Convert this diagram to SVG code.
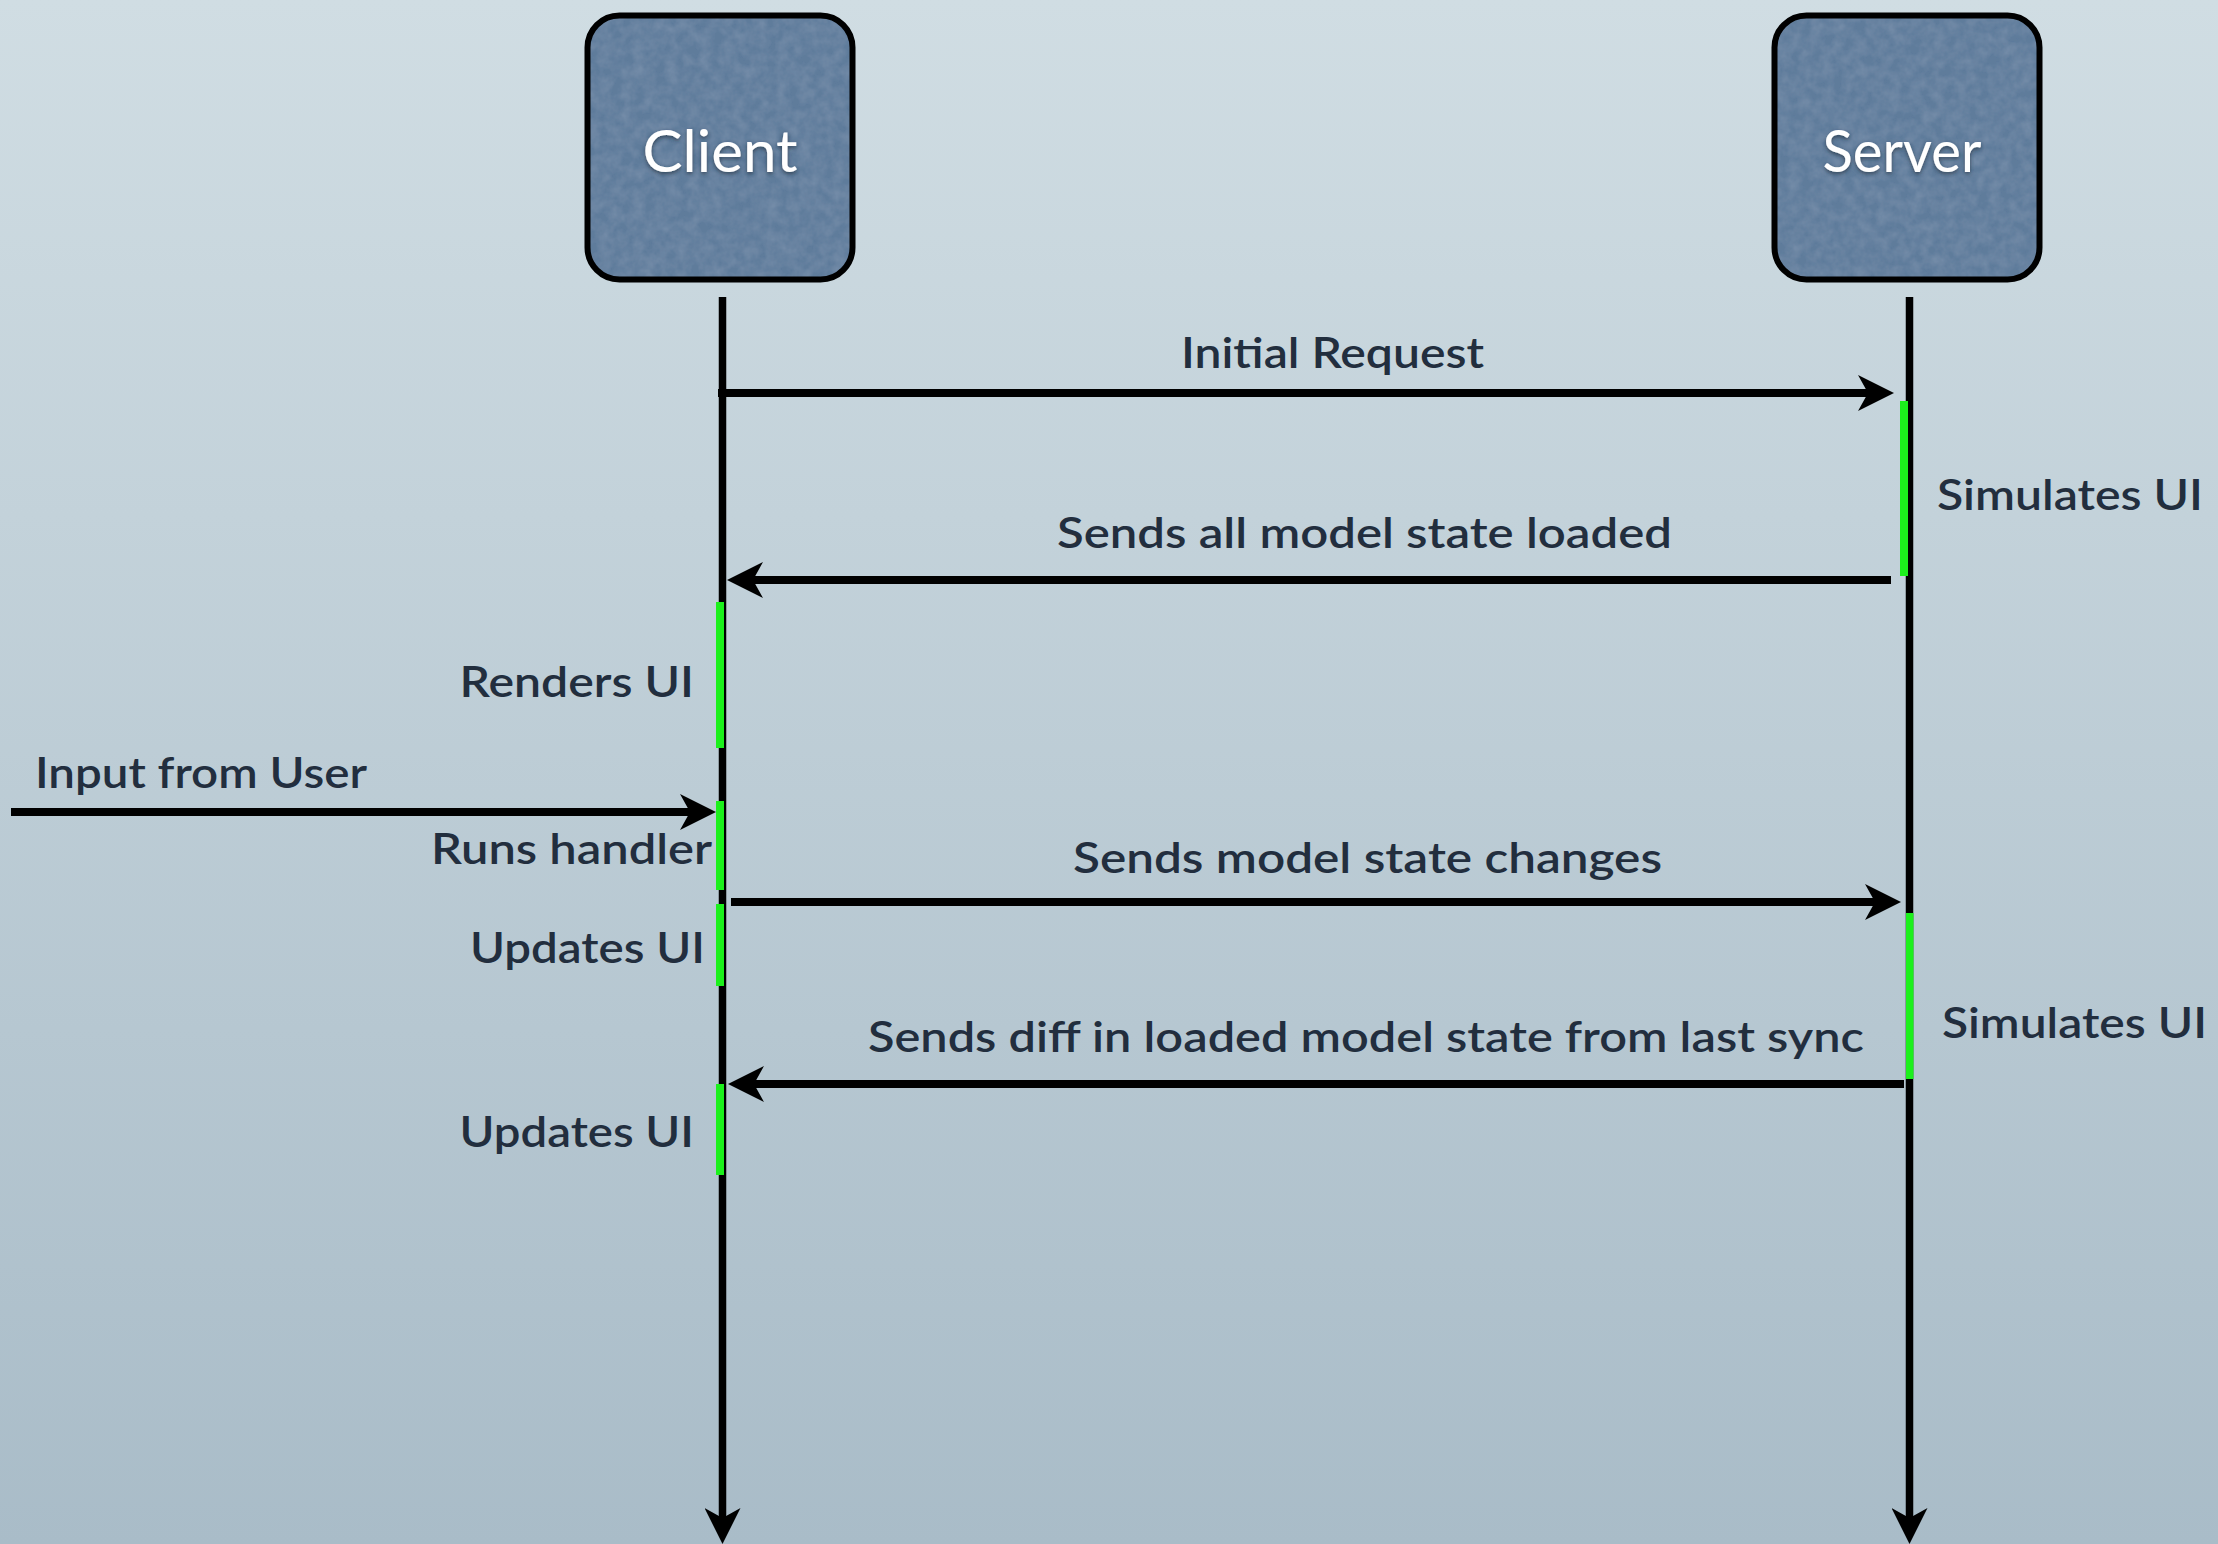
<svg xmlns="http://www.w3.org/2000/svg" width="2218" height="1544" viewBox="0 0 2218 1544">
  <defs>
    <linearGradient id="bg" x1="0" y1="0" x2="0" y2="1">
      <stop offset="0" stop-color="#d0dde3"/>
      <stop offset="1" stop-color="#a9bcc8"/>
    </linearGradient>
    <filter id="grain" x="0" y="0" width="100%" height="100%">
      <feTurbulence type="fractalNoise" baseFrequency="0.09" numOctaves="3" seed="4" result="n"/>
      <feColorMatrix in="n" type="matrix" values="0 0 0 0 0.55  0 0 0 0 0.65  0 0 0 0 0.78  0 0 0 0.22 -0.06" result="a"/>
      <feComposite in="a" in2="SourceGraphic" operator="in" result="t"/>
      <feMerge><feMergeNode in="SourceGraphic"/><feMergeNode in="t"/></feMerge>
    </filter>
    <filter id="tshadow" x="-10%" y="-30%" width="120%" height="160%">
      <feDropShadow dx="0" dy="2" stdDeviation="2" flood-color="#1c2a38" flood-opacity="0.7"/>
    </filter>
    <marker id="head" viewBox="0 0 36 36" refX="10" refY="18" markerWidth="36" markerHeight="36" markerUnits="userSpaceOnUse" orient="auto">
      <path d="M0,0 L36,18 L0,36 L10,18 Z" fill="#000"/>
    </marker>
    <style>
      .fill { fill: #5e7b9b; }
      .frame { fill: none; stroke: #000; stroke-width: 6; }
      .title { font-family: "Lato", "Open Sans", sans-serif; font-size: 58px; fill: #ffffff; text-anchor: middle; }
      .life { stroke: #000; stroke-width: 7.5; fill: none; marker-end: url(#head); }
      .msg { stroke: #000; stroke-width: 8; fill: none; marker-end: url(#head); }
      .act { fill: #1cf01c; }
      .lbl { font-family: "Lato", "Open Sans", sans-serif; font-size: 42px; font-weight: 600; fill: #222e3e; }
    </style>
  </defs>

  <rect x="0" y="0" width="2218" height="1544" fill="url(#bg)"/>

  <g id="client">
    <rect class="fill" x="587.5" y="15.5" width="265" height="264" rx="32" ry="32" filter="url(#grain)"/>
    <rect class="frame" x="587.5" y="15.5" width="265" height="264" rx="32" ry="32"/>
    <text class="title" x="720" y="172" textLength="155" lengthAdjust="spacingAndGlyphs" filter="url(#tshadow)">Client</text>
  </g>

  <g id="server">
    <rect class="fill" x="1774.5" y="15.5" width="265" height="264" rx="32" ry="32" filter="url(#grain)"/>
    <rect class="frame" x="1774.5" y="15.5" width="265" height="264" rx="32" ry="32"/>
    <text class="title" x="1902" y="172" textLength="159" lengthAdjust="spacingAndGlyphs" filter="url(#tshadow)">Server</text>
  </g>

  <g id="connectors">
    <line class="life" x1="722.5" y1="297" x2="722.5" y2="1518"/>
    <line class="life" x1="1909.5" y1="297" x2="1909.5" y2="1518"/>
    <line class="msg" x1="718" y1="393" x2="1868" y2="393"/>
    <line class="msg" x1="1891" y1="580" x2="753" y2="580"/>
    <line class="msg" x1="11" y1="812" x2="690" y2="812"/>
    <line class="msg" x1="731" y1="902" x2="1875" y2="902"/>
    <line class="msg" x1="1904" y1="1084" x2="754" y2="1084"/>
  </g>

  <g id="activations">
    <rect class="act" x="1900" y="401" width="8" height="175"/>
    <rect class="act" x="716" y="602" width="8" height="146"/>
    <rect class="act" x="716" y="801" width="8" height="89"/>
    <rect class="act" x="716" y="904" width="8" height="82"/>
    <rect class="act" x="1906" y="913" width="7.5" height="166"/>
    <rect class="act" x="716" y="1084" width="8" height="91"/>
  </g>

  <g id="labels">
    <text class="lbl" x="1181" y="368" textLength="303" lengthAdjust="spacingAndGlyphs">Initial Request</text>
    <text class="lbl" x="1057" y="548" textLength="615" lengthAdjust="spacingAndGlyphs">Sends all model state loaded</text>
    <text class="lbl" x="1937" y="510" textLength="266" lengthAdjust="spacingAndGlyphs">Simulates UI</text>
    <text class="lbl" x="459.5" y="697" textLength="234.5" lengthAdjust="spacingAndGlyphs">Renders UI</text>
    <text class="lbl" x="35" y="788" textLength="332" lengthAdjust="spacingAndGlyphs">Input from User</text>
    <text class="lbl" x="431" y="864" textLength="281" lengthAdjust="spacingAndGlyphs">Runs handler</text>
    <text class="lbl" x="1073" y="873" textLength="589" lengthAdjust="spacingAndGlyphs">Sends model state changes</text>
    <text class="lbl" x="470" y="963" textLength="235" lengthAdjust="spacingAndGlyphs">Updates UI</text>
    <text class="lbl" x="1942" y="1038" textLength="265" lengthAdjust="spacingAndGlyphs">Simulates UI</text>
    <text class="lbl" x="868" y="1052" textLength="996" lengthAdjust="spacingAndGlyphs">Sends diff in loaded model state from last sync</text>
    <text class="lbl" x="459.5" y="1147" textLength="234.5" lengthAdjust="spacingAndGlyphs">Updates UI</text>
  </g>
</svg>
